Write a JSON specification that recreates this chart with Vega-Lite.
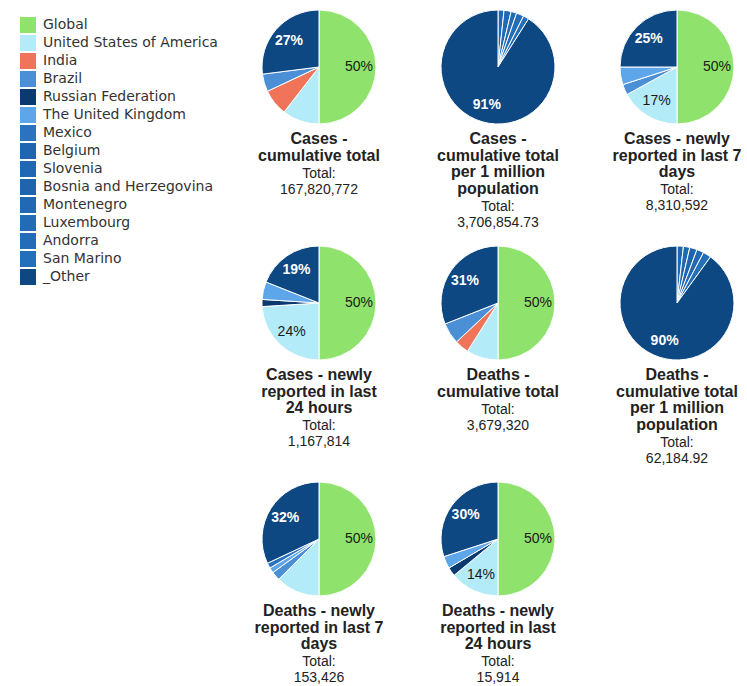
{
  "$schema": "https://vega.github.io/schema/vega-lite/v6.json",
  "padding": {"left": 13, "top": 8, "right": 5, "bottom": 0},
  "background": "white",
  "data": {"values": [
    {"chart": "c1", "country": "Global", "value": 50},
    {"chart": "c1", "country": "United States of America", "value": 10.5},
    {"chart": "c1", "country": "India", "value": 7.5},
    {"chart": "c1", "country": "Brazil", "value": 5},
    {"chart": "c1", "country": "_Other", "value": 27},
    {"chart": "c2", "country": "Slovenia", "value": 1.7},
    {"chart": "c2", "country": "Montenegro", "value": 2.0},
    {"chart": "c2", "country": "Luxembourg", "value": 1.6},
    {"chart": "c2", "country": "Andorra", "value": 2.1},
    {"chart": "c2", "country": "San Marino", "value": 1.6},
    {"chart": "c2", "country": "_Other", "value": 91},
    {"chart": "c3", "country": "Global", "value": 50},
    {"chart": "c3", "country": "United States of America", "value": 17},
    {"chart": "c3", "country": "Brazil", "value": 3},
    {"chart": "c3", "country": "The United Kingdom", "value": 5},
    {"chart": "c3", "country": "_Other", "value": 25},
    {"chart": "c4", "country": "Global", "value": 50},
    {"chart": "c4", "country": "United States of America", "value": 24},
    {"chart": "c4", "country": "Russian Federation", "value": 2},
    {"chart": "c4", "country": "The United Kingdom", "value": 5},
    {"chart": "c4", "country": "_Other", "value": 19},
    {"chart": "c5", "country": "Global", "value": 50},
    {"chart": "c5", "country": "United States of America", "value": 9},
    {"chart": "c5", "country": "India", "value": 4},
    {"chart": "c5", "country": "Brazil", "value": 6},
    {"chart": "c5", "country": "_Other", "value": 31},
    {"chart": "c6", "country": "Belgium", "value": 1.8},
    {"chart": "c6", "country": "Slovenia", "value": 1.8},
    {"chart": "c6", "country": "Bosnia and Herzegovina", "value": 2.1},
    {"chart": "c6", "country": "Montenegro", "value": 2.0},
    {"chart": "c6", "country": "San Marino", "value": 2.3},
    {"chart": "c6", "country": "_Other", "value": 90},
    {"chart": "c7", "country": "Global", "value": 50},
    {"chart": "c7", "country": "United States of America", "value": 12.5},
    {"chart": "c7", "country": "Brazil", "value": 2.5},
    {"chart": "c7", "country": "The United Kingdom", "value": 1.5},
    {"chart": "c7", "country": "Mexico", "value": 1.5},
    {"chart": "c7", "country": "_Other", "value": 32},
    {"chart": "c8", "country": "Global", "value": 50},
    {"chart": "c8", "country": "United States of America", "value": 14},
    {"chart": "c8", "country": "Russian Federation", "value": 2.5},
    {"chart": "c8", "country": "The United Kingdom", "value": 3.5},
    {"chart": "c8", "country": "_Other", "value": 30}
  ]},
  "transform": [
    {"joinaggregate": [{"op": "sum", "field": "value", "as": "total"}], "groupby": ["chart"]},
    {"calculate": "indexof(['Global','United States of America','India','Brazil','Russian Federation','The United Kingdom','Mexico','Belgium','Slovenia','Bosnia and Herzegovina','Montenegro','Luxembourg','Andorra','San Marino','_Other'], datum.country)", "as": "rank"},
    {"calculate": "datum.value / datum.total", "as": "pct"},
    {"calculate": "(datum.pct >= 0.135 && (datum.country === '_Other' || datum.country === 'Russian Federation')) ? format(datum.pct, '.0%') : ''", "as": "lw"},
    {"calculate": "(datum.pct >= 0.135 && !(datum.country === '_Other' || datum.country === 'Russian Federation')) ? format(datum.pct, '.0%') : ''", "as": "ld"}
  ],
  "columns": 3,
  "spacing": {"row": 122, "column": 59},
  "bounds": "flush",
  "concat": [
    {
      "width": 120, "height": 114,
      "transform": [{"filter": "datum.chart === 'c1'"}],
      "title": {"text": ["Cases -", "cumulative total"], "subtitle": ["Total:", "167,820,772"]},
      "layer": [
        {"mark": {"type": "arc", "stroke": "white", "strokeWidth": 1},
         "encoding": {"theta": {"field": "value", "type": "quantitative", "stack": true}, "order": {"field": "rank", "type": "quantitative"},
          "color": {"field": "country", "type": "nominal", "legend": {"title": null},
            "scale": {"domain": ["Global","United States of America","India","Brazil","Russian Federation","The United Kingdom","Mexico","Belgium","Slovenia","Bosnia and Herzegovina","Montenegro","Luxembourg","Andorra","San Marino","_Other"],
                      "range": ["#8fe26b","#b3ebf8","#f0745a","#4b8fd6","#0b3a70","#5ea6ea","#2b73bf","#1f66b1","#2068b3","#1e65ad","#2169b3","#226bb5","#236db8","#246fba","#0e4883"]}}}},
        {"mark": {"type": "text", "radius": 40, "fontSize": 14, "fontWeight": "bold", "fill": "white", "font": "Liberation Sans"},
         "encoding": {"theta": {"field": "value", "type": "quantitative", "stack": true}, "order": {"field": "rank", "type": "quantitative"}, "text": {"field": "lw"}}},
        {"mark": {"type": "text", "radius": 40, "fontSize": 14, "fill": "#1a1a1a", "font": "Liberation Sans"},
         "encoding": {"theta": {"field": "value", "type": "quantitative", "stack": true}, "order": {"field": "rank", "type": "quantitative"}, "text": {"field": "ld"}}}
      ]
    },
    {
      "width": 120, "height": 114,
      "transform": [{"filter": "datum.chart === 'c2'"}],
      "title": {"text": ["Cases -", "cumulative total", "per 1 million", "population"], "subtitle": ["Total:", "3,706,854.73"]},
      "layer": [
        {"mark": {"type": "arc", "stroke": "white", "strokeWidth": 1},
         "encoding": {"theta": {"field": "value", "type": "quantitative", "stack": true}, "order": {"field": "rank", "type": "quantitative"},
          "color": {"field": "country", "type": "nominal", "legend": {"title": null},
            "scale": {"domain": ["Global","United States of America","India","Brazil","Russian Federation","The United Kingdom","Mexico","Belgium","Slovenia","Bosnia and Herzegovina","Montenegro","Luxembourg","Andorra","San Marino","_Other"],
                      "range": ["#8fe26b","#b3ebf8","#f0745a","#4b8fd6","#0b3a70","#5ea6ea","#2b73bf","#1f66b1","#2068b3","#1e65ad","#2169b3","#226bb5","#236db8","#246fba","#0e4883"]}}}},
        {"mark": {"type": "text", "radius": 40, "fontSize": 14, "fontWeight": "bold", "fill": "white", "font": "Liberation Sans"},
         "encoding": {"theta": {"field": "value", "type": "quantitative", "stack": true}, "order": {"field": "rank", "type": "quantitative"}, "text": {"field": "lw"}}},
        {"mark": {"type": "text", "radius": 40, "fontSize": 14, "fill": "#1a1a1a", "font": "Liberation Sans"},
         "encoding": {"theta": {"field": "value", "type": "quantitative", "stack": true}, "order": {"field": "rank", "type": "quantitative"}, "text": {"field": "ld"}}}
      ]
    },
    {
      "width": 120, "height": 114,
      "transform": [{"filter": "datum.chart === 'c3'"}],
      "title": {"text": ["Cases - newly", "reported in last 7", "days"], "subtitle": ["Total:", "8,310,592"]},
      "layer": [
        {"mark": {"type": "arc", "stroke": "white", "strokeWidth": 1},
         "encoding": {"theta": {"field": "value", "type": "quantitative", "stack": true}, "order": {"field": "rank", "type": "quantitative"},
          "color": {"field": "country", "type": "nominal", "legend": {"title": null},
            "scale": {"domain": ["Global","United States of America","India","Brazil","Russian Federation","The United Kingdom","Mexico","Belgium","Slovenia","Bosnia and Herzegovina","Montenegro","Luxembourg","Andorra","San Marino","_Other"],
                      "range": ["#8fe26b","#b3ebf8","#f0745a","#4b8fd6","#0b3a70","#5ea6ea","#2b73bf","#1f66b1","#2068b3","#1e65ad","#2169b3","#226bb5","#236db8","#246fba","#0e4883"]}}}},
        {"mark": {"type": "text", "radius": 40, "fontSize": 14, "fontWeight": "bold", "fill": "white", "font": "Liberation Sans"},
         "encoding": {"theta": {"field": "value", "type": "quantitative", "stack": true}, "order": {"field": "rank", "type": "quantitative"}, "text": {"field": "lw"}}},
        {"mark": {"type": "text", "radius": 40, "fontSize": 14, "fill": "#1a1a1a", "font": "Liberation Sans"},
         "encoding": {"theta": {"field": "value", "type": "quantitative", "stack": true}, "order": {"field": "rank", "type": "quantitative"}, "text": {"field": "ld"}}}
      ]
    },
    {
      "width": 120, "height": 114,
      "transform": [{"filter": "datum.chart === 'c4'"}],
      "title": {"text": ["Cases - newly", "reported in last", "24 hours"], "subtitle": ["Total:", "1,167,814"]},
      "layer": [
        {"mark": {"type": "arc", "stroke": "white", "strokeWidth": 1},
         "encoding": {"theta": {"field": "value", "type": "quantitative", "stack": true}, "order": {"field": "rank", "type": "quantitative"},
          "color": {"field": "country", "type": "nominal", "legend": {"title": null},
            "scale": {"domain": ["Global","United States of America","India","Brazil","Russian Federation","The United Kingdom","Mexico","Belgium","Slovenia","Bosnia and Herzegovina","Montenegro","Luxembourg","Andorra","San Marino","_Other"],
                      "range": ["#8fe26b","#b3ebf8","#f0745a","#4b8fd6","#0b3a70","#5ea6ea","#2b73bf","#1f66b1","#2068b3","#1e65ad","#2169b3","#226bb5","#236db8","#246fba","#0e4883"]}}}},
        {"mark": {"type": "text", "radius": 40, "fontSize": 14, "fontWeight": "bold", "fill": "white", "font": "Liberation Sans"},
         "encoding": {"theta": {"field": "value", "type": "quantitative", "stack": true}, "order": {"field": "rank", "type": "quantitative"}, "text": {"field": "lw"}}},
        {"mark": {"type": "text", "radius": 40, "fontSize": 14, "fill": "#1a1a1a", "font": "Liberation Sans"},
         "encoding": {"theta": {"field": "value", "type": "quantitative", "stack": true}, "order": {"field": "rank", "type": "quantitative"}, "text": {"field": "ld"}}}
      ]
    },
    {
      "width": 120, "height": 114,
      "transform": [{"filter": "datum.chart === 'c5'"}],
      "title": {"text": ["Deaths -", "cumulative total"], "subtitle": ["Total:", "3,679,320"]},
      "layer": [
        {"mark": {"type": "arc", "stroke": "white", "strokeWidth": 1},
         "encoding": {"theta": {"field": "value", "type": "quantitative", "stack": true}, "order": {"field": "rank", "type": "quantitative"},
          "color": {"field": "country", "type": "nominal", "legend": {"title": null},
            "scale": {"domain": ["Global","United States of America","India","Brazil","Russian Federation","The United Kingdom","Mexico","Belgium","Slovenia","Bosnia and Herzegovina","Montenegro","Luxembourg","Andorra","San Marino","_Other"],
                      "range": ["#8fe26b","#b3ebf8","#f0745a","#4b8fd6","#0b3a70","#5ea6ea","#2b73bf","#1f66b1","#2068b3","#1e65ad","#2169b3","#226bb5","#236db8","#246fba","#0e4883"]}}}},
        {"mark": {"type": "text", "radius": 40, "fontSize": 14, "fontWeight": "bold", "fill": "white", "font": "Liberation Sans"},
         "encoding": {"theta": {"field": "value", "type": "quantitative", "stack": true}, "order": {"field": "rank", "type": "quantitative"}, "text": {"field": "lw"}}},
        {"mark": {"type": "text", "radius": 40, "fontSize": 14, "fill": "#1a1a1a", "font": "Liberation Sans"},
         "encoding": {"theta": {"field": "value", "type": "quantitative", "stack": true}, "order": {"field": "rank", "type": "quantitative"}, "text": {"field": "ld"}}}
      ]
    },
    {
      "width": 120, "height": 114,
      "transform": [{"filter": "datum.chart === 'c6'"}],
      "title": {"text": ["Deaths -", "cumulative total", "per 1 million", "population"], "subtitle": ["Total:", "62,184.92"]},
      "layer": [
        {"mark": {"type": "arc", "stroke": "white", "strokeWidth": 1},
         "encoding": {"theta": {"field": "value", "type": "quantitative", "stack": true}, "order": {"field": "rank", "type": "quantitative"},
          "color": {"field": "country", "type": "nominal", "legend": {"title": null},
            "scale": {"domain": ["Global","United States of America","India","Brazil","Russian Federation","The United Kingdom","Mexico","Belgium","Slovenia","Bosnia and Herzegovina","Montenegro","Luxembourg","Andorra","San Marino","_Other"],
                      "range": ["#8fe26b","#b3ebf8","#f0745a","#4b8fd6","#0b3a70","#5ea6ea","#2b73bf","#1f66b1","#2068b3","#1e65ad","#2169b3","#226bb5","#236db8","#246fba","#0e4883"]}}}},
        {"mark": {"type": "text", "radius": 40, "fontSize": 14, "fontWeight": "bold", "fill": "white", "font": "Liberation Sans"},
         "encoding": {"theta": {"field": "value", "type": "quantitative", "stack": true}, "order": {"field": "rank", "type": "quantitative"}, "text": {"field": "lw"}}},
        {"mark": {"type": "text", "radius": 40, "fontSize": 14, "fill": "#1a1a1a", "font": "Liberation Sans"},
         "encoding": {"theta": {"field": "value", "type": "quantitative", "stack": true}, "order": {"field": "rank", "type": "quantitative"}, "text": {"field": "ld"}}}
      ]
    },
    {
      "width": 120, "height": 114,
      "transform": [{"filter": "datum.chart === 'c7'"}],
      "title": {"text": ["Deaths - newly", "reported in last 7", "days"], "subtitle": ["Total:", "153,426"]},
      "layer": [
        {"mark": {"type": "arc", "stroke": "white", "strokeWidth": 1},
         "encoding": {"theta": {"field": "value", "type": "quantitative", "stack": true}, "order": {"field": "rank", "type": "quantitative"},
          "color": {"field": "country", "type": "nominal", "legend": {"title": null},
            "scale": {"domain": ["Global","United States of America","India","Brazil","Russian Federation","The United Kingdom","Mexico","Belgium","Slovenia","Bosnia and Herzegovina","Montenegro","Luxembourg","Andorra","San Marino","_Other"],
                      "range": ["#8fe26b","#b3ebf8","#f0745a","#4b8fd6","#0b3a70","#5ea6ea","#2b73bf","#1f66b1","#2068b3","#1e65ad","#2169b3","#226bb5","#236db8","#246fba","#0e4883"]}}}},
        {"mark": {"type": "text", "radius": 40, "fontSize": 14, "fontWeight": "bold", "fill": "white", "font": "Liberation Sans"},
         "encoding": {"theta": {"field": "value", "type": "quantitative", "stack": true}, "order": {"field": "rank", "type": "quantitative"}, "text": {"field": "lw"}}},
        {"mark": {"type": "text", "radius": 40, "fontSize": 14, "fill": "#1a1a1a", "font": "Liberation Sans"},
         "encoding": {"theta": {"field": "value", "type": "quantitative", "stack": true}, "order": {"field": "rank", "type": "quantitative"}, "text": {"field": "ld"}}}
      ]
    },
    {
      "width": 120, "height": 114,
      "transform": [{"filter": "datum.chart === 'c8'"}],
      "title": {"text": ["Deaths - newly", "reported in last", "24 hours"], "subtitle": ["Total:", "15,914"]},
      "layer": [
        {"mark": {"type": "arc", "stroke": "white", "strokeWidth": 1},
         "encoding": {"theta": {"field": "value", "type": "quantitative", "stack": true}, "order": {"field": "rank", "type": "quantitative"},
          "color": {"field": "country", "type": "nominal", "legend": {"title": null},
            "scale": {"domain": ["Global","United States of America","India","Brazil","Russian Federation","The United Kingdom","Mexico","Belgium","Slovenia","Bosnia and Herzegovina","Montenegro","Luxembourg","Andorra","San Marino","_Other"],
                      "range": ["#8fe26b","#b3ebf8","#f0745a","#4b8fd6","#0b3a70","#5ea6ea","#2b73bf","#1f66b1","#2068b3","#1e65ad","#2169b3","#226bb5","#236db8","#246fba","#0e4883"]}}}},
        {"mark": {"type": "text", "radius": 40, "fontSize": 14, "fontWeight": "bold", "fill": "white", "font": "Liberation Sans"},
         "encoding": {"theta": {"field": "value", "type": "quantitative", "stack": true}, "order": {"field": "rank", "type": "quantitative"}, "text": {"field": "lw"}}},
        {"mark": {"type": "text", "radius": 40, "fontSize": 14, "fill": "#1a1a1a", "font": "Liberation Sans"},
         "encoding": {"theta": {"field": "value", "type": "quantitative", "stack": true}, "order": {"field": "rank", "type": "quantitative"}, "text": {"field": "ld"}}}
      ]
    }
  ],
  "resolve": {"scale": {"color": "shared"}},
  "config": {
    "font": "Liberation Sans",
    "view": {"stroke": null},
    "title": {"orient": "bottom", "anchor": "middle", "font": "Liberation Sans", "fontSize": 16, "fontWeight": "bold", "color": "#222222", "lineHeight": 16.5, "offset": 5,
              "subtitleFont": "Liberation Sans", "subtitleFontSize": 14, "subtitleColor": "#222222", "subtitleLineHeight": 16, "subtitlePadding": 3},
    "legend": {"orient": "left", "symbolType": "square", "symbolSize": 256, "symbolStrokeWidth": 0, "labelFont": "DejaVu Sans", "labelFontSize": 14, "labelColor": "#333333",
               "rowPadding": 2, "labelLimit": 220, "offset": 29, "padding": 7, "labelOffset": 7}
  }
}
